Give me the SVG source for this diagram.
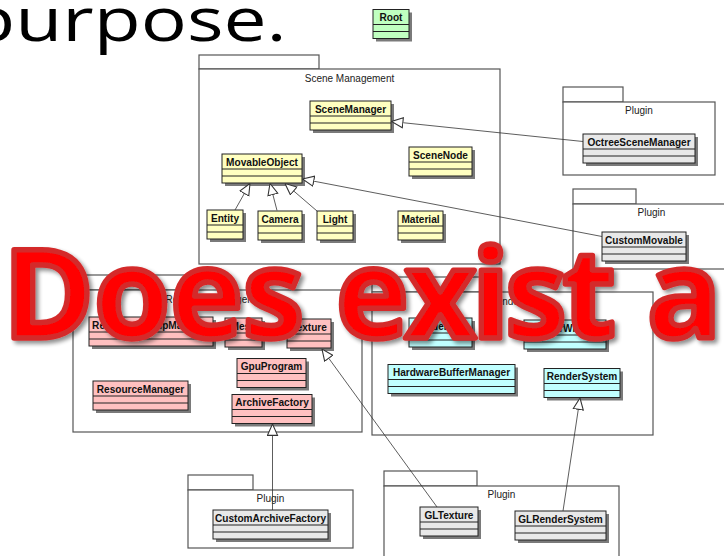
<svg xmlns="http://www.w3.org/2000/svg" width="724" height="556" viewBox="0 0 724 556">
<style>
.pkg{fill:#fff;stroke:#555;stroke-width:1.2}
.plab{font-family:"Liberation Sans",Arial,sans-serif;font-size:10px;fill:#222;text-anchor:middle}
.sh{fill:#7a7a7a;stroke:none}
.box{stroke:#222;stroke-width:1}
.sep{stroke:#222;stroke-width:1}
.cn{font-family:"Liberation Sans",Arial,sans-serif;font-size:10.1px;font-weight:bold;fill:#111;text-anchor:middle}
.yel .box{fill:#ffffc0}
.pnk .box{fill:#ffc0c0}
.cya .box{fill:#c0ffff}
.gry .box{fill:#e8e8e8}
.grn .box{fill:#c0ffc0}
.edge{fill:none;stroke:#333;stroke-width:0.8;marker-end:url(#gen)}
.big{font-family:"Open Sans","Noto Sans",sans-serif;font-weight:bold;font-size:123px;fill:#ff0000;stroke:#d42c2c;stroke-width:5.5;stroke-linejoin:round}
</style>
<defs>
<marker id="gen" markerUnits="userSpaceOnUse" markerWidth="12" markerHeight="12" viewBox="0 0 10 10" refX="10" refY="5" orient="auto">
<path d="M0.5,0.8 L10,5 L0.5,9.2 z" fill="#fff" stroke="#333" stroke-width="0.9"/>
</marker>
<filter id="ts" x="-5%" y="-20%" width="110%" height="140%">
<feGaussianBlur in="SourceAlpha" stdDeviation="2"/>
<feOffset dx="3" dy="3" result="o"/>
<feComponentTransfer><feFuncA type="linear" slope="0.45"/></feComponentTransfer>
<feMerge><feMergeNode/><feMergeNode in="SourceGraphic"/></feMerge>
</filter>
</defs>
<rect width="724" height="556" fill="#fff"/>

<!-- packages -->
<g id="pkg-scene">
<rect class="pkg" x="199" y="55" width="120" height="14"/>
<rect class="pkg" x="199" y="69" width="301" height="195"/>
<text class="plab" x="349.5" y="82">Scene Management</text>
</g>
<g id="pkg-plugin1">
<rect class="pkg" x="563" y="87" width="60" height="15"/>
<rect class="pkg" x="563" y="102" width="152" height="73"/>
<text class="plab" x="639" y="114">Plugin</text>
</g>
<g id="pkg-plugin2">
<rect class="pkg" x="573" y="189" width="63" height="15"/>
<rect class="pkg" x="573" y="204" width="157" height="65"/>
<text class="plab" x="651.5" y="216">Plugin</text>
</g>
<g id="pkg-resource">
<rect class="pkg" x="73" y="275" width="115" height="15"/>
<rect class="pkg" x="73" y="290" width="289" height="142"/>
<text class="plab" x="217.5" y="302.5">Resource Management</text>
</g>
<g id="pkg-rendering">
<rect class="pkg" x="372" y="277" width="108" height="15"/>
<rect class="pkg" x="372" y="292" width="281" height="143"/>
<text class="plab" x="512.5" y="304.5">Rendering</text>
</g>
<g id="pkg-plugin3">
<rect class="pkg" x="188" y="475" width="65" height="15"/>
<rect class="pkg" x="188" y="490" width="165" height="58"/>
<text class="plab" x="270.5" y="502">Plugin</text>
</g>
<g id="pkg-plugin4">
<rect class="pkg" x="384" y="471" width="93" height="15"/>
<rect class="pkg" x="384" y="486" width="235" height="80"/>
<text class="plab" x="501.5" y="497.5">Plugin</text>
</g>

<!-- classes -->
<g id="Root" class="grn"><rect class="sh" x="376" y="12.5" width="36" height="29"/><rect class="box" x="373" y="9.5" width="36" height="29"/><line class="sep" x1="373" y1="24.5" x2="409" y2="24.5"/><line class="sep" x1="373" y1="31.5" x2="409" y2="31.5"/><text class="cn" x="391" y="21">Root</text></g>

<g id="SceneManager" class="yel"><rect class="sh" x="313" y="104" width="81" height="29"/><rect class="box" x="310" y="101" width="81" height="29"/><line class="sep" x1="310" y1="116" x2="391" y2="116"/><line class="sep" x1="310" y1="123" x2="391" y2="123"/><text class="cn" x="350.5" y="112.5">SceneManager</text></g>
<g id="MovableObject" class="yel"><rect class="sh" x="225" y="157" width="80" height="29"/><rect class="box" x="222" y="154" width="80" height="29"/><line class="sep" x1="222" y1="169" x2="302" y2="169"/><line class="sep" x1="222" y1="176" x2="302" y2="176"/><text class="cn" x="262" y="165.5">MovableObject</text></g>
<g id="SceneNode" class="yel"><rect class="sh" x="412" y="150" width="63" height="29"/><rect class="box" x="409" y="147" width="63" height="29"/><line class="sep" x1="409" y1="162" x2="472" y2="162"/><line class="sep" x1="409" y1="169" x2="472" y2="169"/><text class="cn" x="440.5" y="158.5">SceneNode</text></g>
<g id="Entity" class="yel"><rect class="sh" x="210" y="213" width="36" height="29"/><rect class="box" x="207" y="210" width="36" height="29"/><line class="sep" x1="207" y1="225" x2="243" y2="225"/><line class="sep" x1="207" y1="232" x2="243" y2="232"/><text class="cn" x="225" y="221.5">Entity</text></g>
<g id="Camera" class="yel"><rect class="sh" x="261" y="214" width="44" height="29"/><rect class="box" x="258" y="211" width="44" height="29"/><line class="sep" x1="258" y1="226" x2="302" y2="226"/><line class="sep" x1="258" y1="233" x2="302" y2="233"/><text class="cn" x="280" y="222.5">Camera</text></g>
<g id="Light" class="yel"><rect class="sh" x="320" y="214" width="36" height="29"/><rect class="box" x="317" y="211" width="36" height="29"/><line class="sep" x1="317" y1="226" x2="353" y2="226"/><line class="sep" x1="317" y1="233" x2="353" y2="233"/><text class="cn" x="335" y="222.5">Light</text></g>
<g id="Material" class="yel"><rect class="sh" x="401" y="214" width="45" height="29"/><rect class="box" x="398" y="211" width="45" height="29"/><line class="sep" x1="398" y1="226" x2="443" y2="226"/><line class="sep" x1="398" y1="233" x2="443" y2="233"/><text class="cn" x="420.5" y="222.5">Material</text></g>

<g id="OctreeSceneManager" class="gry"><rect class="sh" x="586" y="137" width="112" height="29"/><rect class="box" x="583" y="134" width="112" height="29"/><line class="sep" x1="583" y1="149" x2="695" y2="149"/><line class="sep" x1="583" y1="156" x2="695" y2="156"/><text class="cn" x="639" y="145.5">OctreeSceneManager</text></g>
<g id="CustomMovable" class="gry"><rect class="sh" x="605" y="235" width="84" height="29"/><rect class="box" x="602" y="232" width="84" height="29"/><line class="sep" x1="602" y1="247" x2="686" y2="247"/><line class="sep" x1="602" y1="254" x2="686" y2="254"/><text class="cn" x="644" y="243.5">CustomMovable</text></g>

<g id="ResourceGroupManager" class="pnk"><rect class="sh" x="92" y="320" width="124" height="29"/><rect class="box" x="89" y="317" width="124" height="29"/><line class="sep" x1="89" y1="332" x2="213" y2="332"/><line class="sep" x1="89" y1="339" x2="213" y2="339"/><text class="cn" x="151" y="328.5">ResourceGroupManager</text></g>
<g id="Mesh" class="pnk"><rect class="sh" x="228" y="321" width="37" height="29"/><rect class="box" x="225" y="318" width="37" height="29"/><line class="sep" x1="225" y1="333" x2="262" y2="333"/><line class="sep" x1="225" y1="340" x2="262" y2="340"/><text class="cn" x="243.5" y="329.5">Mesh</text></g>
<g id="Texture" class="pnk"><rect class="sh" x="290" y="322" width="44" height="29"/><rect class="box" x="287" y="319" width="44" height="29"/><line class="sep" x1="287" y1="334" x2="331" y2="334"/><line class="sep" x1="287" y1="341" x2="331" y2="341"/><text class="cn" x="309" y="330.5">Texture</text></g>
<g id="GpuProgram" class="pnk"><rect class="sh" x="240" y="361.5" width="69" height="29"/><rect class="box" x="237" y="358.5" width="69" height="29"/><line class="sep" x1="237" y1="373.5" x2="306" y2="373.5"/><line class="sep" x1="237" y1="380.5" x2="306" y2="380.5"/><text class="cn" x="271.5" y="370">GpuProgram</text></g>
<g id="ResourceManager" class="pnk"><rect class="sh" x="96" y="384" width="95" height="29"/><rect class="box" x="93" y="381" width="95" height="29"/><line class="sep" x1="93" y1="396" x2="188" y2="396"/><line class="sep" x1="93" y1="403" x2="188" y2="403"/><text class="cn" x="140.5" y="392.5">ResourceManager</text></g>
<g id="ArchiveFactory" class="pnk"><rect class="sh" x="235" y="397.5" width="80" height="29"/><rect class="box" x="232" y="394.5" width="80" height="29"/><line class="sep" x1="232" y1="409.5" x2="312" y2="409.5"/><line class="sep" x1="232" y1="416.5" x2="312" y2="416.5"/><text class="cn" x="272" y="406">ArchiveFactory</text></g>

<g id="Renderable" class="cya"><rect class="sh" x="412" y="321" width="63" height="29"/><rect class="box" x="409" y="318" width="63" height="29"/><line class="sep" x1="409" y1="333" x2="472" y2="333"/><line class="sep" x1="409" y1="340" x2="472" y2="340"/><text class="cn" x="440.5" y="329.5">Renderable</text></g>
<g id="RenderWindow" class="cya"><rect class="sh" x="527" y="323" width="82" height="29"/><rect class="box" x="524" y="320" width="82" height="29"/><line class="sep" x1="524" y1="335" x2="606" y2="335"/><line class="sep" x1="524" y1="342" x2="606" y2="342"/><text class="cn" x="565" y="331.5">RenderWindow</text></g>
<g id="HardwareBufferManager" class="cya"><rect class="sh" x="391" y="367.5" width="127" height="29"/><rect class="box" x="388" y="364.5" width="127" height="29"/><line class="sep" x1="388" y1="379.5" x2="515" y2="379.5"/><line class="sep" x1="388" y1="386.5" x2="515" y2="386.5"/><text class="cn" x="451.5" y="376">HardwareBufferManager</text></g>
<g id="RenderSystem" class="cya"><rect class="sh" x="547" y="371.5" width="76" height="29"/><rect class="box" x="544" y="368.5" width="76" height="29"/><line class="sep" x1="544" y1="383.5" x2="620" y2="383.5"/><line class="sep" x1="544" y1="390.5" x2="620" y2="390.5"/><text class="cn" x="582" y="380">RenderSystem</text></g>

<g id="CustomArchiveFactory" class="gry"><rect class="sh" x="216" y="513" width="115" height="29"/><rect class="box" x="213" y="510" width="115" height="29"/><line class="sep" x1="213" y1="525" x2="328" y2="525"/><line class="sep" x1="213" y1="532" x2="328" y2="532"/><text class="cn" x="270.5" y="521.5">CustomArchiveFactory</text></g>
<g id="GLTexture" class="gry"><rect class="sh" x="423" y="510" width="58" height="29"/><rect class="box" x="420" y="507" width="58" height="29"/><line class="sep" x1="420" y1="522" x2="478" y2="522"/><line class="sep" x1="420" y1="529" x2="478" y2="529"/><text class="cn" x="449" y="518.5">GLTexture</text></g>
<g id="GLRenderSystem" class="gry"><rect class="sh" x="518" y="514" width="91" height="29"/><rect class="box" x="515" y="511" width="91" height="29"/><line class="sep" x1="515" y1="526" x2="606" y2="526"/><line class="sep" x1="515" y1="533" x2="606" y2="533"/><text class="cn" x="560.5" y="522.5">GLRenderSystem</text></g>

<!-- connectors -->
<g id="connectors">
<path class="edge" d="M583,141.5 L391.5,121.5"/>
<path class="edge" d="M602,236.5 L302.5,179"/>
<path class="edge" d="M235,210 L250,183.5"/>
<path class="edge" d="M277,210.5 L270,183.5"/>
<path class="edge" d="M317,211 L285,183.5"/>
<path class="edge" d="M272.5,510 L272.5,424"/>
<path class="edge" d="M437,507 L322,349"/>
<path class="edge" d="M563,511 L580,398"/>
</g>

<!-- slide text -->
<text font-family="'Open Sans','Noto Sans',sans-serif" font-size="60" fill="#000" transform="scale(1.28 1)" x="-24.8" y="41">purpose.</text>

<text class="big" filter="url(#ts)" y="338"><tspan x="3">Does</tspan><tspan x="336" letter-spacing="-4">exist</tspan><tspan x="647">a</tspan></text>
</svg>
